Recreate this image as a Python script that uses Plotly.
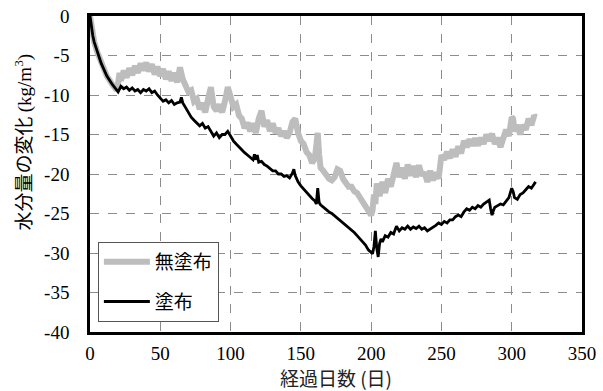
import plotly.graph_objects as go

# 無塗布 (uncoated)
days_nc = [0,1,2,3,5,8,12,16,19,20,21,22,24,26,28,30,32,34,36,38,40,42,44,46,48,50,52,54,56,58,60,62,64,66,68,70,72,74,76,78,80,82,84,86,88,90,92,94,96,98,100,102,104,106,108,110,112,114,116,118,120,122,124,126,128,130,132,134,136,138,140,142,144,146,148,150,152,154,156,158,160,161,162,163,164,166,168,170,172,174,176,178,180,182,184,186,188,190,192,194,196,198,200,201,202,203,204,206,208,210,212,214,216,218,220,222,224,226,228,230,232,234,236,238,240,242,244,246,248,250,252,254,256,258,260,262,264,266,268,270,272,274,276,278,280,282,284,286,288,290,292,294,296,298,300,301,302,304,306,308,310,312,314,316,317]
vals_nc = [0,-1.5,-2.5,-3.3,-4.5,-6.0,-7.6,-8.7,-9.4,-8.5,-7.2,-8.2,-6.9,-7.8,-6.6,-7.5,-6.3,-7.2,-6.0,-6.9,-5.9,-7.0,-6.1,-7.4,-6.4,-7.6,-6.7,-8.0,-7.0,-8.2,-7.2,-8.4,-6.5,-8.0,-8.8,-9.6,-9.4,-10.8,-10.5,-11.8,-11.0,-12.2,-10.5,-9.0,-11.5,-12.0,-11.2,-12.2,-10.8,-9.0,-10.2,-11.5,-11.2,-12.6,-13.0,-14.2,-13.5,-14.6,-13.6,-14.8,-13.0,-12.0,-14.0,-13.2,-14.6,-13.6,-14.8,-14.2,-15.2,-14.6,-15.4,-14.8,-13.4,-13.0,-14.8,-15.8,-16.2,-17.2,-17.6,-18.6,-18.0,-16.0,-14.8,-17.5,-19.2,-19.6,-20.2,-20.6,-20.8,-20.4,-19.4,-19.6,-20.6,-21.0,-21.6,-21.6,-22.2,-22.4,-23.0,-23.6,-24.2,-24.8,-25.2,-24.6,-22.6,-23.8,-21.2,-22.8,-21.0,-22.4,-20.6,-21.6,-19.6,-18.6,-20.4,-19.2,-20.6,-18.8,-20.2,-19.0,-20.4,-18.9,-20.2,-19.8,-21.0,-19.6,-20.8,-19.8,-20.6,-17.6,-18.2,-17.2,-18.0,-16.9,-17.8,-16.5,-17.4,-15.8,-16.6,-15.6,-16.4,-15.5,-16.4,-15.4,-16.2,-15.0,-15.8,-14.9,-16.2,-15.4,-16.6,-15.2,-14.4,-15.2,-12.8,-13.0,-14.6,-13.8,-15.0,-13.8,-14.4,-13.0,-13.8,-12.6,-12.8]

# 塗布 (coated)
days_c = [0,1,2,3,5,8,12,16,20,21,22,24,26,28,30,32,34,36,38,40,42,44,46,48,50,52,54,56,58,60,62,64,65,66,68,70,72,74,76,78,80,82,84,86,88,90,92,94,96,98,100,102,104,106,108,110,112,114,116,117,118,119,120,122,124,126,128,130,132,134,136,138,140,142,144,145,146,148,150,152,154,156,158,160,161,162,163,164,166,168,170,172,174,176,178,180,182,184,186,188,190,192,194,196,198,200,201,202,203,204,205,206,207,208,210,212,214,216,218,220,222,224,226,228,230,232,234,236,238,240,242,244,246,248,250,252,254,256,258,260,262,264,266,268,270,272,274,276,278,280,282,284,285,286,287,288,290,292,294,296,298,300,301,302,304,306,308,310,312,314,316,317]
vals_c = [0,-1.5,-2.5,-3.3,-4.5,-6.0,-7.6,-8.7,-9.6,-9.2,-8.9,-9.2,-9.0,-9.4,-9.1,-9.5,-9.3,-9.7,-9.3,-9.5,-9.2,-9.7,-9.5,-10.0,-10.4,-10.8,-10.6,-11.0,-10.7,-11.2,-11.0,-10.9,-10.3,-11.0,-11.6,-12.2,-12.8,-13.2,-13.5,-13.9,-13.6,-14.2,-14.0,-14.6,-15.2,-14.8,-15.4,-15.0,-15.0,-14.6,-15.2,-15.8,-16.2,-16.6,-17.0,-17.3,-17.6,-17.9,-18.2,-17.5,-18.2,-17.6,-18.5,-18.4,-18.8,-19.0,-19.3,-19.6,-19.6,-20.0,-20.0,-20.3,-20.2,-20.5,-19.9,-19.4,-20.2,-21.0,-21.5,-21.9,-22.3,-22.8,-23.1,-23.4,-23.8,-21.8,-23.6,-23.9,-24.2,-24.6,-24.8,-25.0,-25.3,-25.5,-25.8,-26.2,-26.5,-26.8,-27.0,-27.4,-27.8,-28.2,-28.6,-29.0,-29.6,-30.0,-30.1,-29.2,-27.2,-29.4,-30.5,-28.8,-28.2,-28.6,-27.8,-28.0,-27.4,-27.6,-26.6,-27.2,-26.8,-27.0,-26.6,-27.0,-26.7,-26.9,-26.6,-27.0,-26.8,-27.2,-27.0,-26.7,-26.5,-26.2,-26.4,-26.0,-26.2,-25.8,-25.8,-25.4,-25.2,-25.4,-24.8,-24.4,-24.6,-24.2,-24.4,-24.0,-24.2,-23.8,-23.6,-23.3,-24.4,-25.2,-24.6,-24.2,-24.0,-23.8,-23.9,-23.5,-23.0,-21.8,-22.2,-23.0,-23.2,-22.6,-22.4,-22.0,-21.6,-21.8,-21.2,-21.0]

x_ticks = [0, 50, 100, 150, 200, 250, 300, 350]
y_ticks = [0, -5, -10, -15, -20, -25, -30, -35, -40]

serif = "Liberation Serif"
cjk = "Noto Sans CJK JP"

fig = go.Figure()
fig.add_trace(go.Scatter(x=days_nc, y=vals_nc, mode="lines", name="無塗布",
                         line=dict(color="#bdbdbd", width=6), legendgroup="a"))
fig.add_trace(go.Scatter(x=days_c, y=vals_c, mode="lines", name="塗布",
                         line=dict(color="#000000", width=2.8), legendgroup="b"))

fig.update_layout(
    width=603, height=391,
    margin=dict(l=90, r=21, t=16, b=59),
    paper_bgcolor="white", plot_bgcolor="white",
    font=dict(family=serif),
    showlegend=True,
    legend=dict(x=0.016, y=0.285, xanchor="left", yanchor="top",
                bgcolor="white", bordercolor="#555555", borderwidth=1,
                font=dict(family=cjk, size=19, color="black"),
                tracegroupgap=12, traceorder="grouped", itemwidth=46),
    xaxis=dict(range=[0, 350], tickvals=x_ticks, ticktext=[str(v) for v in x_ticks],
               showgrid=True, gridcolor="#8c8c8c", griddash="dash", gridwidth=1,
               showline=True, linecolor="black", linewidth=2.5, mirror=True,
               zeroline=False, ticks="", ticklabelstandoff=2, automargin=False,
               tickfont=dict(family=serif, size=19, color="black"),
               title=dict(text="経過日数 (日)", font=dict(family=cjk, size=19, color="#222222"), standoff=6)),
    yaxis=dict(range=[-40, 0], tickvals=y_ticks, ticktext=[str(v) for v in y_ticks],
               showgrid=True, gridcolor="#8c8c8c", griddash="dash", gridwidth=1,
               showline=True, linecolor="black", linewidth=2.5, mirror=True,
               zeroline=False, ticks="", ticklabelstandoff=14, automargin=False,
               tickfont=dict(family=serif, size=19, color="black")),
    annotations=[dict(
        text="水分量の変化 <span style=\"font-family:Liberation Serif\">(kg/m<sup>3</sup>)</span>",
        xref="paper", yref="paper", x=-0.138, y=0.6, xanchor="center", yanchor="middle",
        textangle=-90, showarrow=False,
        font=dict(family=cjk, size=19, color="black"))],
)

fig.write_html("out.html", config={"displayModeBar": False},
               post_script="document.body.style.margin='0px';")
